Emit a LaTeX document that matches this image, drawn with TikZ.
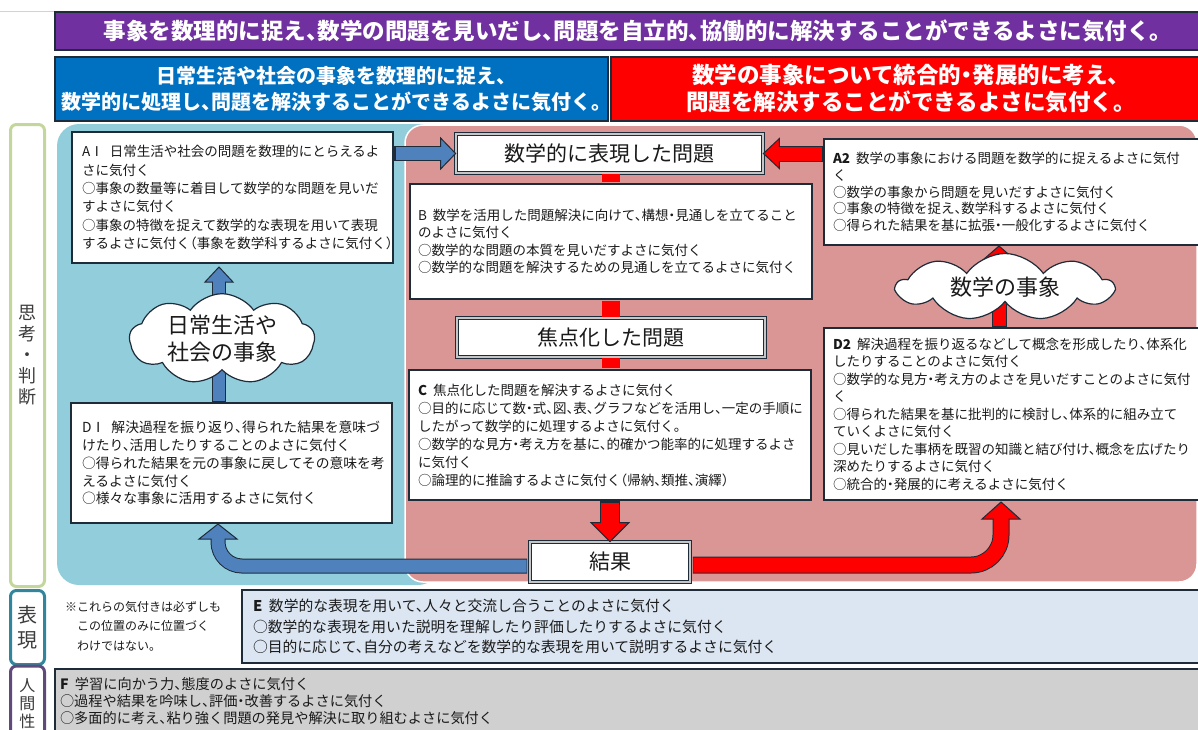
\documentclass[tikz,border=0pt]{standalone}
\usepackage{fontspec}
\setmainfont{Noto Sans CJK JP}[RawFeature=+halt]
\usetikzlibrary{calc,shapes.symbols}
\definecolor{dk}{HTML}{1E2B38}
\definecolor{txt}{HTML}{1A1A1A}
\definecolor{purp}{HTML}{7030A0}
\definecolor{hblue}{HTML}{0070C0}
\definecolor{hred}{HTML}{FF0000}
\definecolor{regblue}{HTML}{92CDDC}
\definecolor{regpink}{HTML}{D99694}
\definecolor{ablue}{HTML}{4F81BD}
\definecolor{ared}{HTML}{FF0000}
\definecolor{ebg}{HTML}{DCE6F2}
\definecolor{fbg}{HTML}{D0D0D0}
\definecolor{lgreen}{HTML}{C3D69B}
\definecolor{lteal}{HTML}{31859C}
\definecolor{lpurp}{HTML}{604A7B}
\newcommand\lgap{\nobreak\hspace{0.45em}\nobreak}
\begin{document}
\begin{tikzpicture}[x=1pt,y=-1pt,
  hdr/.style={draw=dk, line width=1.5, text=white, align=center, inner sep=0},
  txtbox/.style={draw=dk, line width=2, fill=white, text=txt, align=left, inner ysep=0},
  keybox/.style={draw=dk, line width=0.8, double=gray!45, double distance=2.2, fill=white, text=txt, font=\fontsize{21}{24}\selectfont, inner sep=0},
  cloudn/.style={cloud, cloud puffs=9, cloud puff arc=110, cloud ignores aspect, draw=dk, line width=1.2, fill=white, text=txt, font=\fontsize{22}{27}\selectfont, align=center, inner sep=0},
  sidelab/.style={rounded corners=6, line width=3, fill=white, text=txt!85, align=center, inner sep=0}
]
\useasboundingbox (0,0) rectangle (1198,729);
\clip (0,0) rectangle (1198,729);
\fill[white] (0,0) rectangle (1198,729);
\draw[gray!35, line width=1] (0,11) -- (56,11);

% headers
\node[hdr, fill=purp, minimum width=1155, minimum height=38, font=\bfseries\fontsize{22.5}{26}\selectfont] (title) at (632.5,31) {事象を数理的に捉え、数学の問題を見いだし、問題を自立的、協働的に解決することができるよさに気付く。};
\node[hdr, fill=hblue, minimum width=553, minimum height=64, font=\bfseries\fontsize{20}{26}\selectfont] (hb) at (331.5,89) {日常生活や社会の事象を数理的に捉え、\\数学的に処理し、問題を解決することができるよさに気付く。};
\node[hdr, fill=hred, minimum width=589, minimum height=64, font=\bfseries\fontsize{22.5}{27}\selectfont] (hr) at (905.5,89) {数学の事象について統合的・発展的に考え、\\問題を解決することができるよさに気付く。};

% regions
\fill[regblue, rounded corners=22] (57,124) rectangle (440,585);
\filldraw[fill=regpink, draw=white, line width=1.5, rounded corners=18] (405,125) rectangle (1197,582);

% side labels
\node[sidelab, draw=lgreen, minimum width=34, minimum height=462, font=\fontsize{18}{21}\selectfont] (sl1) at (27.5,355.5) {思\\考\\・\\判\\断};
\node[sidelab, draw=lteal, minimum width=34, minimum height=74, font=\fontsize{20}{25}\selectfont] (sl2) at (27.5,627.5) {表\\現};
\node[sidelab, draw=lpurp, minimum width=34, minimum height=76, font=\fontsize{16}{18}\selectfont] (sl3) at (27.5,704) {人\\間\\性};

% text boxes
\node[txtbox, minimum width=321, minimum height=131, text width=301, font=\fontsize{13.5}{18.3}\selectfont] (A1) at (232.5,197.5) {AⅠ\lgap 日常生活や社会の問題を数理的にとらえるよ\\さに気付く\\○事象の数量等に着目して数学的な問題を見いだ\\すよさに気付く\\○事象の特徴を捉えて数学的な表現を用いて表現\\するよさに気付く（事象を数学科するよさに気付く）};

\node[txtbox, minimum width=402, minimum height=115, text width=386, font=\fontsize{13.5}{17.4}\selectfont] (B) at (611,241.5) {B\lgap 数学を活用した問題解決に向けて、構想・見通しを立てること\\のよさに気付く\\○数学的な問題の本質を見いだすよさに気付く\\○数学的な問題を解決するための見通しを立てるよさに気付く};

\node[txtbox, minimum width=386, minimum height=106, text width=368, font=\fontsize{13.5}{16.8}\selectfont] (A2) at (1017,192) {\textbf{A2}\lgap 数学の事象における問題を数学的に捉えるよさに気付\\く\\○数学の事象から問題を見いだすよさに気付く\\○事象の特徴を捉え、数学科するよさに気付く\\○得られた結果を基に拡張・一般化するよさに気付く};

\node[txtbox, minimum width=402, minimum height=130, text width=384, font=\fontsize{13.5}{18}\selectfont] (C) at (610,435) {\textbf{C}\lgap 焦点化した問題を解決するよさに気付く\\○目的に応じて数・式、図、表、グラフなどを活用し、一定の手順に\\したがって数学的に処理するよさに気付く。\\○数学的な見方・考え方を基に、的確かつ能率的に処理するよさ\\に気付く\\○論理的に推論するよさに気付く（帰納、類推、演繹）};

\node[txtbox, minimum width=321, minimum height=120, text width=299, font=\fontsize{13.8}{17.8}\selectfont] (D1) at (231.5,463) {DⅠ\lgap 解決過程を振り返り、得られた結果を意味づ\\けたり、活用したりすることのよさに気付く\\○得られた結果を元の事象に戻してその意味を考\\えるよさに気付く\\○様々な事象に活用するよさに気付く};

\node[txtbox, minimum width=386, minimum height=172, text width=368, font=\fontsize{13.5}{17.5}\selectfont] (D2) at (1017,414) {\textbf{D2}\lgap 解決過程を振り返るなどして概念を形成したり、体系化\\したりすることのよさに気付く\\○数学的な見方・考え方のよさを見いだすことのよさに気付\\く\\○得られた結果を基に批判的に検討し、体系的に組み立て\\ていくよさに気付く\\○見いだした事柄を既習の知識と結び付け、概念を広げたり\\深めたりするよさに気付く\\○統合的・発展的に考えるよさに気付く};

% key boxes
\node[keybox, minimum width=307, minimum height=39] (mth) at (609.5,153.5) {数学的に表現した問題};
\node[keybox, minimum width=308, minimum height=39] (foc) at (611,337.5) {焦点化した問題};
\node[keybox, minimum width=160, minimum height=40] (res) at (610,562) {結果};

% red bars between boxes
\draw[ared, line width=18, shorten <=1, shorten >=1] (B.north) -- (B.north |- mth.south);
\draw[ared, line width=18, shorten <=1, shorten >=1] (B.south) -- (B.south |- foc.north);
\draw[ared, line width=18, shorten <=1, shorten >=1] (foc.south) -- (foc.south |- C.north);

% blue arrow A1 -> mth
\coordinate (s1) at (A1.east |- mth.west);
\coordinate (h1) at ($(mth.west)+(-15,0)$);
\draw[dk, line width=15] (s1) -- (h1);
\filldraw[fill=ablue, draw=dk, line width=1] (mth.west) -- ($(h1)+(0,-15.5)$) -- ($(h1)+(0,15.5)$) -- cycle;
\draw[ablue, line width=13] ($(s1)+(1.5,0)$) -- ($(h1)+(2,0)$);

% red arrow A2 -> mth
\coordinate (s2) at (A2.west |- mth.east);
\coordinate (h2) at ($(mth.east)+(16,0)$);
\draw[dk, line width=16] (s2) -- (h2);
\filldraw[fill=ared, draw=dk, line width=1] (mth.east) -- ($(h2)+(0,-15)$) -- ($(h2)+(0,15)$) -- cycle;
\draw[ared, line width=14] ($(s2)+(-1.5,0)$) -- ($(h2)+(-2,0)$);

% red arrow C -> res
\coordinate (h5) at ($(res.north)+(0,-19)$);
\draw[dk, line width=20] (C.south) -- (h5);
\filldraw[fill=ared, draw=dk, line width=1] (res.north) -- ($(h5)+(-19,0)$) -- ($(h5)+(19,0)$) -- cycle;
\draw[ared, line width=18] ($(C.south)+(0,1.5)$) -- ($(h5)+(0,2)$);

% blue arrow D1 -> A1
\coordinate (t3) at ($(A1.south)+(-13.5,3)$);
\coordinate (h3) at ($(t3)+(0,15)$);
\coordinate (s3) at (D1.north -| t3);
\draw[dk, line width=14] (s3) -- (h3);
\filldraw[fill=ablue, draw=dk, line width=1] (t3) -- ($(h3)+(-14,0)$) -- ($(h3)+(14,0)$) -- cycle;
\draw[ablue, line width=12] ($(s3)+(0,-1.5)$) -- ($(h3)+(0,-2)$);

% red arrow D2 -> A2
\coordinate (t4) at ($(A2.south)+(-18,0)$);
\coordinate (h4) at ($(t4)+(0,13)$);
\coordinate (s4) at (D2.north -| t4);
\draw[dk, line width=15] (s4) -- (h4);
\filldraw[fill=ared, draw=dk, line width=1] (t4) -- ($(h4)+(-15,0)$) -- ($(h4)+(15,0)$) -- cycle;
\draw[ared, line width=13] ($(s4)+(0,-1.5)$) -- ($(h4)+(0,-2)$);

% blue arrow res -> D1
\coordinate (t6) at ($(D1.south)+(-13.5,0)$);
\coordinate (h6) at ($(t6)+(0,15)$);
\coordinate (s6) at ($(res.west)+(-2.5,4)$);
\draw[dk, line width=15, rounded corners=24] (s6) -| (h6);
\filldraw[fill=ablue, draw=dk, line width=1] (t6) -- ($(h6)+(-19,0)$) -- ($(h6)+(19,0)$) -- cycle;
\draw[ablue, line width=13, rounded corners=24] ($(s6)+(-0.5,0)$) -| ($(h6)+(0,-2)$);

% red arrow res -> D2
\coordinate (t7) at ($(D2.south)+(-16,1)$);
\coordinate (h7) at ($(t7)+(0,17)$);
\coordinate (s7) at ($(res.east)+(2.5,3)$);
\draw[dk, line width=17, rounded corners=30] (s7) -| (h7);
\filldraw[fill=ared, draw=dk, line width=1] (t7) -- ($(h7)+(-19,0)$) -- ($(h7)+(19,0)$) -- cycle;
\draw[ared, line width=15, rounded corners=30] ($(s7)+(0.5,0)$) -| ($(h7)+(0,-2)$);

% clouds
\node[cloudn, minimum width=185, minimum height=78] (c1) at (222,339) {日常生活や\\社会の事象};
\node[cloudn, minimum width=216, minimum height=67] (c2) at (1005,287) {数学の事象};

% note, E and F
\node[anchor=west, align=left, inner sep=0, text=txt, font=\fontsize{12}{19.5}\selectfont] (note) at (65,626) {※これらの気付きは必ずしも\\\hspace*{1em}この位置のみに位置づく\\\hspace*{1em}わけではない。};

\node[txtbox, fill=ebg, minimum width=973, minimum height=73, text width=951, font=\fontsize{14.8}{20.5}\selectfont] (E) at (728.5,626.5) {\textbf{E}\lgap 数学的な表現を用いて、人々と交流し合うことのよさに気付く\\○数学的な表現を用いた説明を理解したり評価したりするよさに気付く\\○目的に応じて、自分の考えなどを数学的な表現を用いて説明するよさに気付く};

\node[txtbox, fill=fbg, minimum width=1160, minimum height=64, text width=1150, font=\fontsize{14.2}{17}\selectfont] (F) at (635,701) {\textbf{F}\lgap 学習に向かう力、態度のよさに気付く\\○過程や結果を吟味し、評価・改善するよさに気付く\\○多面的に考え、粘り強く問題の発見や解決に取り組むよさに気付く};
\end{tikzpicture}
\end{document}
